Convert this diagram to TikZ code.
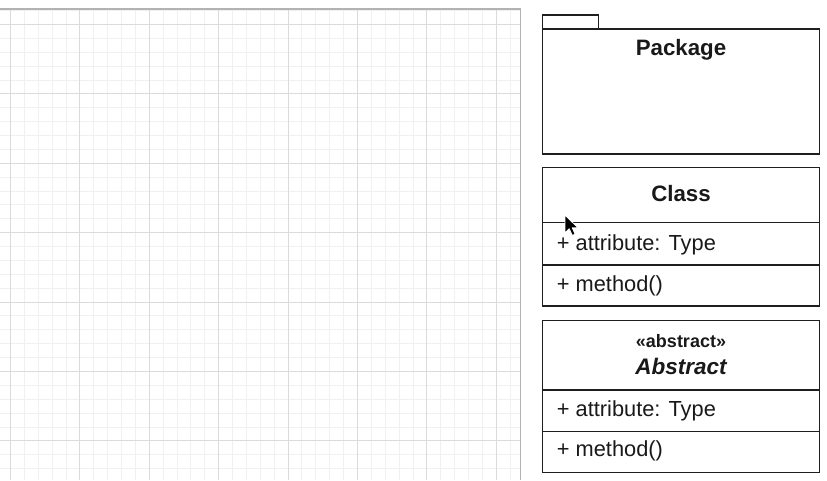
\documentclass[tikz,border=0pt]{standalone}
\usepackage{fontspec}
\setmainfont{Liberation Sans}
\begin{document}
\begin{tikzpicture}[x=1pt,y=-1pt,
  minorline/.style={draw=black!6, line width=1pt},
  majorline/.style={draw=black!14, line width=1pt},
  panelborder/.style={draw=black!30, line width=1.5pt},
  umlbox/.style={draw=black!88, line width=1.3pt, fill=white},
  sepline/.style={draw=black!88, line width=1.3pt},
  title/.style={font=\fontsize{22.3}{26}\selectfont\bfseries, inner sep=0pt, anchor=base, text=black!90},
  member/.style={font=\fontsize{21.8}{26}\selectfont, inner sep=0pt, anchor=base west, text=black!90}
]
\useasboundingbox (0,0) rectangle (827,480);
\fill[white] (0,0) rectangle (827,480);
% grid
\foreach \i in {0,...,36} \draw[minorline] ({10.5+13.88*\i},9) -- ({10.5+13.88*\i},480);
\foreach \j in {0,...,33} \draw[minorline] (0,{10.6+13.88*\j}) -- (520.5,{10.6+13.88*\j});
\foreach \k in {0,...,7} \draw[majorline] ({10.5+69.4*\k},9) -- ({10.5+69.4*\k},480);
\foreach \k in {0,...,6} \draw[majorline] (0,{24.5+69.4*\k}) -- (520.5,{24.5+69.4*\k});
\draw[panelborder] (0,9) -- (520.5,9) -- (520.5,480);
% Package
\draw[umlbox] (542.3,15) rectangle (598.3,29);
\draw[umlbox] (542.3,29) rectangle (819.5,154);
\node[title] (pkg) at (681,55.3) {Package};
% Class
\draw[umlbox] (542.3,167.3) rectangle (819.5,306);
\draw[sepline] (542.3,222.7) -- (819.5,222.7);
\draw[sepline] (542.3,265) -- (819.5,265);
\node[title] (cls) at (681,201.7) {Class};
\node[member] (clsattr) at (556.7,250) {+ attribute: Type};
\node[member] (clsmeth) at (556.7,291) {+ method()};
% Abstract
\draw[umlbox] (542.3,320.7) rectangle (819.5,472.3);
\draw[sepline] (542.3,390) -- (819.5,390);
\draw[sepline] (542.3,431.7) -- (819.5,431.7);
\node[title, font=\fontsize{18}{20}\selectfont\bfseries] (stereo) at (681,347.7) {«abstract»};
\node[title, font=\fontsize{22.5}{26}\selectfont\bfseries\itshape] (abs) at (681,374) {Abstract};
\node[member] (absattr) at (556.7,416) {+ attribute: Type};
\node[member] (absmeth) at (556.7,456.7) {+ method()};
% cursor
\begin{scope}[shift={(565,215)}, scale=1.12]
\filldraw[fill=black, draw=white, line width=0.8pt, line join=round]
  (0,0) -- (0,16) -- (3.8,12.3) -- (6.5,18.2) -- (9,17.1) -- (6.4,11.4) -- (11.5,11.4) -- cycle;
\end{scope}
\end{tikzpicture}
\end{document}
